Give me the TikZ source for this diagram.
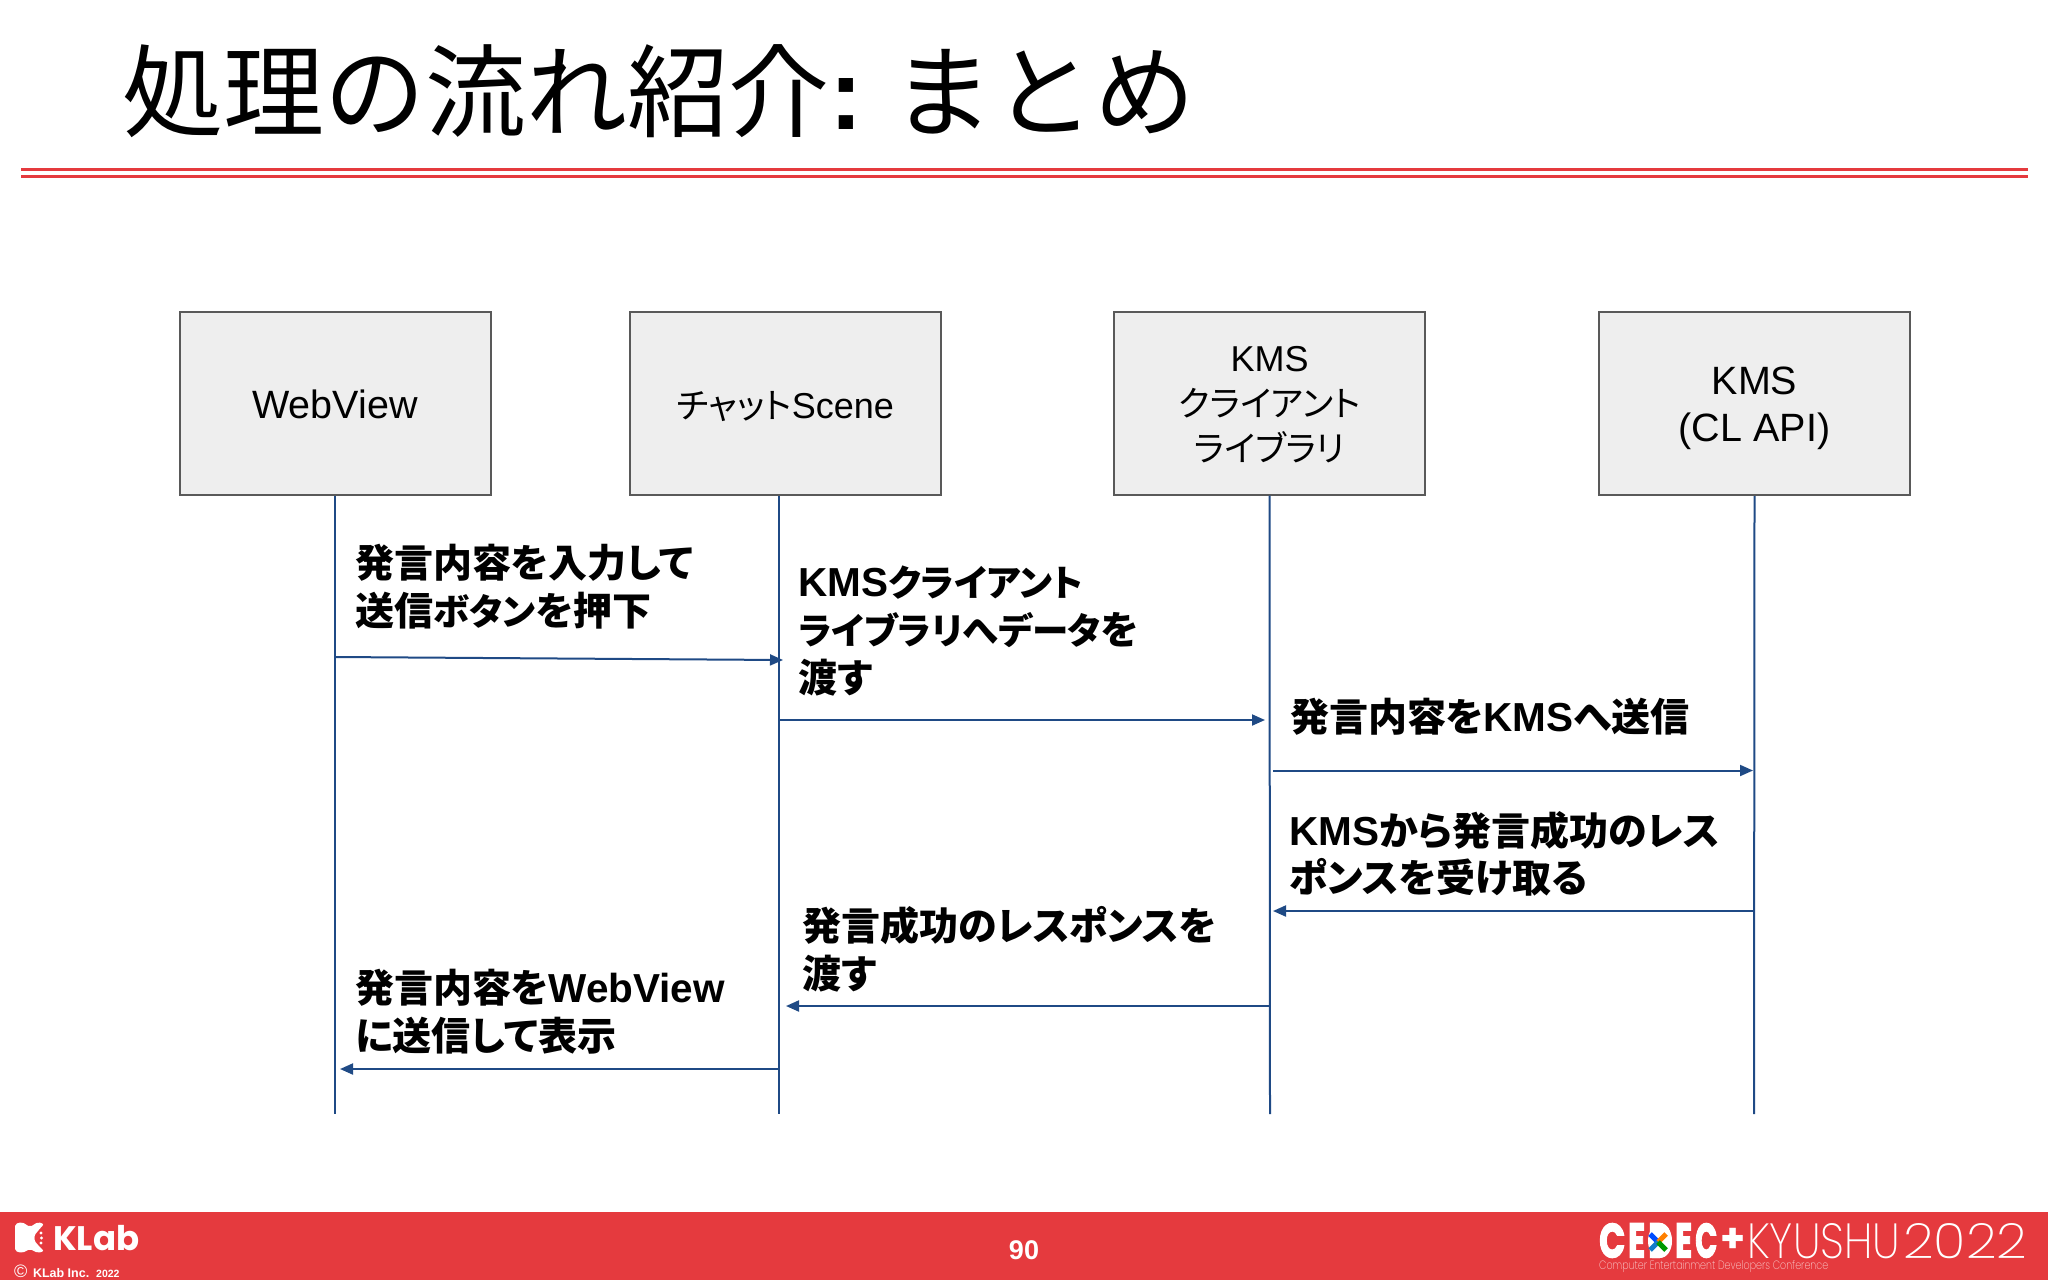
\documentclass[tikz,border=0pt]{standalone}
\usepackage{fontspec}
\usepackage{graphicx}
\usetikzlibrary{arrows.meta}
\setmainfont{Liberation Sans}
\newfontfamily\cjk{Noto Sans CJK JP}
\newfontfamily\cjkp[RawFeature=+palt]{Noto Sans CJK JP}
\newfontfamily\logofont{Poppins}
\newfontfamily\logoheavy[FakeBold=3]{Poppins}
\newfontfamily\logothin{Poppins ExtraLight}
\newcommand{\jp}[1]{{\cjkp\fontsize{39}{47.7}\selectfont #1}}
\newcommand{\kana}[1]{{\cjkp\fontsize{36.5}{47.7}\selectfont #1}}
\newcommand{\jpbox}[1]{{\cjkp\fontsize{35}{45}\selectfont #1}}
\definecolor{footred}{HTML}{E53A3E}
\definecolor{linkblue}{HTML}{1F4A85}
\definecolor{boxgray}{HTML}{EEEEEE}
\definecolor{boxline}{HTML}{595959}

\begin{document}
\begin{tikzpicture}[x=1pt,y=-1pt]
    \tikzstyle{actor}=[draw=boxline,line width=2pt,fill=boxgray,minimum width=311pt,minimum height=183pt,inner sep=0pt,align=center,font=\fontsize{39.5}{45}\selectfont]
    \tikzstyle{life}=[draw=linkblue,line width=2pt]
    \tikzstyle{msg}=[draw=linkblue,line width=2pt,-{Stealth[length=13pt,width=11pt,inset=0pt]}]
    \tikzstyle{say}=[anchor=west,inner sep=0pt,align=left,font=\fontsize{40.5}{47.7}\selectfont\bfseries]
    \tikzstyle{foot}=[anchor=west,inner sep=0pt,text=white]
    \useasboundingbox (0,0) rectangle (2048,1280);
    \node[anchor=west,inner sep=0pt,font=\fontsize{101}{110}\selectfont] (title) at (122,91) {\cjk 処理の流れ紹介{\rmfamily\bfseries :} まとめ};
    \coordinate (ruleleft) at (21,169);
    \coordinate (ruleright) at (2028,169);
    \draw[footred,line width=3pt] (ruleleft) -- (ruleright);
    \draw[footred,line width=3pt] ([yshift=-7.5pt]ruleleft) -- ([yshift=-7.5pt]ruleright);
    \node[actor] (webview) at (335,403.5) {\rule{0pt}{30pt}WebView};
    \node[actor] (chatscene) at (785.5,403.5) {\rule{0pt}{33pt}\jpbox{チャット}{\fontsize{36}{45}\selectfont Scene}};
    \node[actor] (kmsclient) at (1269.5,403) {\rule{0pt}{29pt}{\fontsize{36}{45}\selectfont KMS}\\\jpbox{クライアント}\\\jpbox{ライブラリ}};
    \node[actor,font=\fontsize{39.5}{47}\selectfont] (kmsapi) at (1754.5,403.5) {\rule{0pt}{37pt}KMS\\(CL API)};
    \coordinate (webend) at (335,1114);
    \coordinate (chatend) at (779,1114);
    \coordinate (clientend) at (1270,1114);
    \coordinate (apiend) at (1754,1114);
    \draw[life] (webview.south) -- (webend);
    \draw[life] (chatscene.south -| chatend) -- (chatend);
    \draw[life] (kmsclient.south) -- (clientend);
    \draw[life] (kmsapi.south) -- (apiend);
    \coordinate (senda) at (335,657);
    \coordinate (sendb) at (783,660);
    \coordinate (passa) at (779,720);
    \coordinate (passb) at (1265,720);
    \coordinate (posta) at (1273,770.5);
    \coordinate (postb) at (1753,770.5);
    \coordinate (respa) at (1754,911);
    \coordinate (respb) at (1273,911);
    \coordinate (backa) at (1270,1006);
    \coordinate (backb) at (786,1006);
    \coordinate (showa) at (778,1069);
    \coordinate (showb) at (340,1069);
    \draw[msg] (senda) -- (sendb);
    \draw[msg] (passa) -- (passb);
    \draw[msg] (posta) -- (postb);
    \draw[msg] (respa) -- (respb);
    \draw[msg] (backa) -- (backb);
    \draw[msg] (showa) -- (showb);
    \node[say] (saysend) at (355,587) {\jp{発言内容を入力して}\\\jp{送信}\kana{ボタン}\jp{を押下}};
    \node[say] (saypass) at (798,631) {KMS\kana{クライアント}\\\kana{ライブラリへデータ}\jp{を}\\\jp{渡す}};
    \node[say] (saypost) at (1290,717) {\jp{発言内容を}KMS\jp{へ送信}};
    \node[say] (sayresp) at (1289,854) {KMS\jp{から発言成功のレス}\\\jp{ポンスを受け取る}};
    \node[say] (sayback) at (802,949) {\jp{発言成功のレスポンスを}\\\jp{渡す}};
    \node[say] (sayshow) at (355,1012) {\jp{発言内容を}WebView\\\jp{に送信して表示}};
    \fill[footred] (0,1212) rectangle (2048,1280);
    \fill[white,rounded corners=2pt] (15,1224) -- (22,1222) -- (30,1227) -- (38,1222) -- (44,1224) -- (37,1232) .. controls (34,1236) and (34,1240) .. (37,1244) -- (44,1251) -- (38,1253) -- (30,1249) -- (22,1253) -- (15,1251) -- cycle;
    \fill[white] (41,1233) circle (1.7pt) (41.5,1238) circle (1.7pt) (41,1243) circle (1.7pt);
    \node[foot,font=\logofont\fontsize{34}{36}\selectfont\bfseries] (klab) at (53,1238) {KLab};
    \node[foot,font=\fontsize{12.5}{14}\selectfont\bfseries] (copyright) at (14,1271) {{\fontsize{18}{14}\selectfont\mdseries\copyright}\, KLab Inc.\ \ \fontsize{10.5}{14}\selectfont 2022};
    \node[inner sep=0pt,text=white,font=\fontsize{27}{30}\selectfont\bfseries] (pageno) at (1024,1250) {90};
    \node[foot,font=\logoheavy\bfseries] (cedec) at (1599,1240.5) {\resizebox{26pt}{34pt}{C}\hspace{3pt}\resizebox{17pt}{34pt}{E}\hspace{3pt}\resizebox{24pt}{34pt}{D}\hspace{3pt}\resizebox{17pt}{34pt}{E}\hspace{3pt}\resizebox{22pt}{34pt}{C}};
    \fill[white] (1652,1224) rectangle (1660,1258) (1660,1241) ellipse (12pt and 17pt);
    \draw[line width=5pt,blue!70!cyan] (1658,1242) -- (1650,1234);
    \draw[line width=5pt,orange] (1658,1242) -- (1666,1234);
    \draw[line width=5pt,cyan!60!blue] (1658,1242) -- (1650,1250);
    \draw[line width=5pt,green!60!black] (1658,1242) -- (1666,1250);
    \node[foot,font=\logofont\fontsize{40}{46}\selectfont\bfseries] (plus) at (1720,1240) {+};
    \node[foot,font=\logothin] (kyushu) at (1747,1241) {\resizebox{153pt}{35pt}{KYUSHU}};
    \node[foot,font=\logothin] (year) at (1903,1241) {\resizebox{124pt}{35pt}{2022}};
    \node[foot,text=white!75!footred,font=\logothin] (confname) at (1599,1267) {\resizebox{229pt}{9pt}{Computer Entertainment Developers Conference}};
\end{tikzpicture}
\end{document}
